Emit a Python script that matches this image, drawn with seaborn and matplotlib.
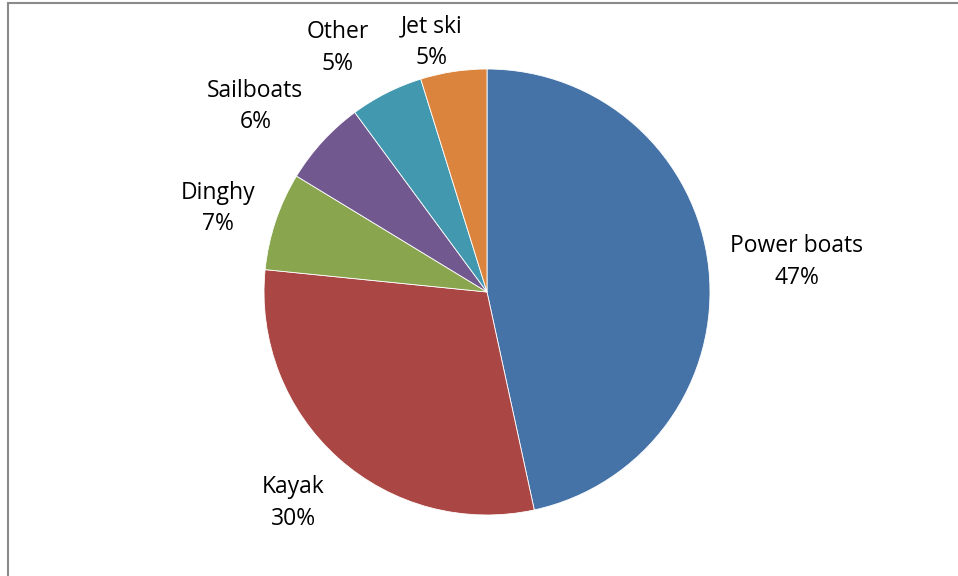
import matplotlib
matplotlib.use('Agg')
import matplotlib.pyplot as plt
import seaborn as sns
import numpy as np
from matplotlib.patches import Rectangle

# Boat types, clockwise from 12 o'clock
categories = ['Power boats', 'Kayak', 'Dinghy', 'Sailboats', 'Other', 'Jet ski']
shares = [46.6, 30.0, 7.1, 6.2, 5.3, 4.8]
colors = ['#4572A7', '#AA4643', '#89A54E', '#71588F', '#4198AF', '#DB843D']

sns.set_theme(style='white')
plt.rcParams['font.family'] = ['Open Sans', 'DejaVu Sans']

fig = plt.figure(figsize=(9.58, 5.76), dpi=100)

# chart border (only top and left show in the crop)
fig.patches.append(Rectangle((7.5 / 958, -0.1), 1.2, 1 - 3.5 / 576 + 0.1,
                             transform=fig.transFigure, fill=False,
                             edgecolor='#8a8a8a', linewidth=1.5))

# pie area: centre (487, 292) px, radius 223 px
cx, cy, r = 487, 292, 223
ax = fig.add_axes([(cx - r) / 958, (576 - cy - r) / 576, 2 * r / 958, 2 * r / 576])

wedges, _ = ax.pie(shares, colors=sns.color_palette(colors), startangle=90,
                   counterclock=False,
                   wedgeprops=dict(edgecolor='white', linewidth=0.6))
ax.set_xlim(-1, 1)
ax.set_ylim(-1, 1)

# outside-end label placement: distance from centre and angle nudge (deg)
label_dist = [1.395, 1.286, 1.264, 1.331, 1.282, 1.148]
label_nudge = [-0.6, -0.8, 1.3, 3.8, 4.6, 3.8]
for w, name, val, d, nd in zip(wedges, categories, shares, label_dist, label_nudge):
    ang = np.deg2rad((w.theta1 + w.theta2) / 2 + nd)
    ax.text(d * np.cos(ang), d * np.sin(ang), f'{name}\n{round(val)}%',
            ha='center', va='center', fontsize=16.5, linespacing=1.42,
            color='black')

plt.savefig('out.png', dpi=100)
